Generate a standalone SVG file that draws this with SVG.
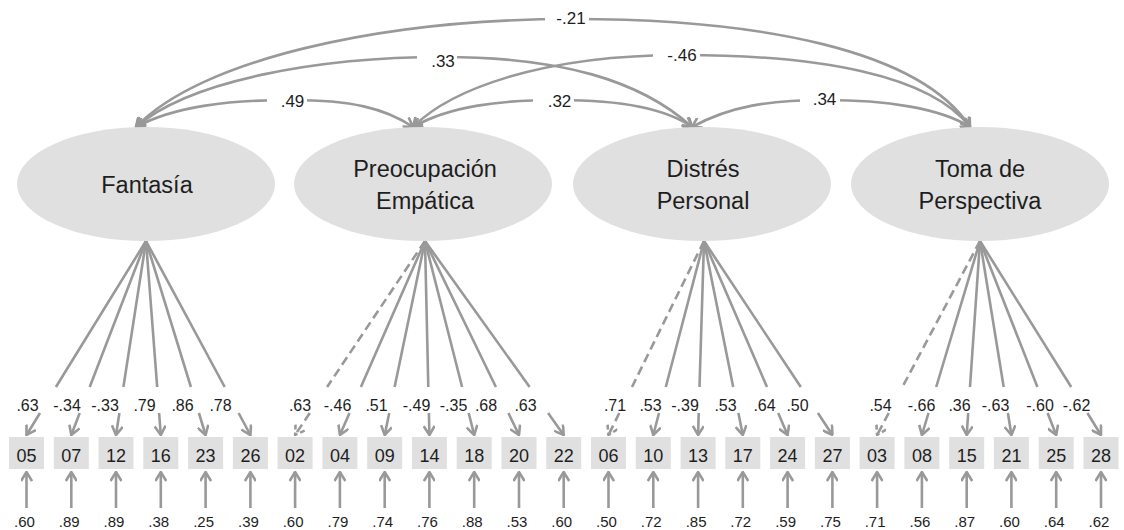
<svg xmlns="http://www.w3.org/2000/svg" width="1124" height="530" viewBox="0 0 1124 530">
<style>
.lat{fill:#e0e0e0}
.box{fill:#e0e0e0}
.t{font-family:"Liberation Sans",Arial,sans-serif;fill:#1e1e1e}
.lt{font-size:23.5px;text-anchor:middle}
.bt{font-size:18px;text-anchor:middle}
.cl{font-size:17px;text-anchor:middle}
.ll{font-size:16px;text-anchor:middle}
.el{font-size:15px;text-anchor:middle}
.edge{fill:none;stroke:#999;stroke-width:2.6}
.dash{stroke-dasharray:9 5}
.bg{fill:#fff}
</style>
<defs>
<marker id="ah" viewBox="0 0 12 12" refX="11" refY="6" markerWidth="12" markerHeight="12" markerUnits="userSpaceOnUse" orient="auto-start-reverse">
<path d="M2,0.5 L11,6 L2,11.5" fill="none" stroke="#999" stroke-width="2.6"/>
</marker>
<marker id="ahd" viewBox="0 0 12 12" refX="11" refY="6" markerWidth="12" markerHeight="12" markerUnits="userSpaceOnUse" orient="auto-start-reverse">
<path d="M2,0.5 L11,6 L2,11.5" fill="none" stroke="#999" stroke-width="2.6" stroke-dasharray="5 3"/>
</marker>
</defs>
<rect width="1124" height="530" fill="#fff"/>

<g id="connectors">
<g id="covariances">
<path class="edge" marker-start="url(#ah)" marker-end="url(#ah)" d="M136,127 C200,60 380,19 572,19 C760,19 920,50 970,127"/>
<path class="edge" marker-start="url(#ah)" marker-end="url(#ah)" d="M136,127 C190,80 320,57 443,57 C560,57 640,80 692,127"/>
<path class="edge" marker-start="url(#ah)" marker-end="url(#ah)" d="M413,127 C450,90 540,55 682,55 C820,55 930,75 970,127"/>
<path class="edge" marker-start="url(#ah)" marker-end="url(#ah)" d="M136,127 C175,106 230,100 292,100 C350,100 385,108 413,127"/>
<path class="edge" marker-start="url(#ah)" marker-end="url(#ah)" d="M413,127 C450,106 500,100 559,100 C620,100 665,108 692,127"/>
<path class="edge" marker-start="url(#ah)" marker-end="url(#ah)" d="M692,127 C730,106 770,100 825,100 C885,100 940,108 970,127"/>
</g>
<g id="cov-labels">
<rect class="bg" x="545" y="11" width="44" height="16"/><text class="t cl" x="571" y="24">-.21</text>
<rect class="bg" x="417" y="50" width="40" height="20"/><text class="t cl" x="443" y="67">.33</text>
<rect class="bg" x="653" y="47" width="47" height="16"/><text class="t cl" x="682" y="61">-.46</text>
<rect class="bg" x="267" y="92" width="40" height="17"/><text class="t cl" x="292.5" y="107">.49</text>
<rect class="bg" x="533" y="92" width="41" height="17"/><text class="t cl" x="559.5" y="107">.32</text>
<rect class="bg" x="800" y="92" width="40" height="16"/><text class="t cl" x="824.5" y="105">.34</text>
</g>
<g id="loadings">
<path class="edge" marker-end="url(#ah)" d="M146,241 L55.9,387 M40,413 L26.5,435"/>
<path class="edge" marker-end="url(#ah)" d="M146,241 L89.7,387 M79.7,413 L71.3,435"/>
<path class="edge" marker-end="url(#ah)" d="M146,241 L123.4,387 M119.4,413 L116,435"/>
<path class="edge" marker-end="url(#ah)" d="M146,241 L157.2,387 M159.1,413 L160.8,435"/>
<path class="edge" marker-end="url(#ah)" d="M146,241 L190.9,387 M198.9,413 L205.6,435"/>
<path class="edge" marker-end="url(#ah)" d="M146,241 L224.7,387 M238.6,413 L250.4,435"/>

<path class="edge dash" marker-end="url(#ahd)" d="M425,241 L327.1,387 M309.8,413 L295.1,435"/>
<path class="edge" marker-end="url(#ah)" d="M425,241 L360.9,387 M349.5,413 L339.9,435"/>
<path class="edge" marker-end="url(#ah)" d="M425,241 L394.6,387 M389.2,413 L384.7,435"/>
<path class="edge" marker-end="url(#ah)" d="M425,241 L428.3,387 M428.9,413 L429.4,435"/>
<path class="edge" marker-end="url(#ah)" d="M425,241 L462.1,387 M468.7,413 L474.2,435"/>
<path class="edge" marker-end="url(#ah)" d="M425,241 L495.9,387 M508.4,413 L519,435"/>
<path class="edge" marker-end="url(#ah)" d="M425,241 L529.6,387 M548.1,413 L563.7,435"/>

<path class="edge dash" marker-end="url(#ahd)" d="M704,241 L632,387 M619.3,413 L608.5,435"/>
<path class="edge" marker-end="url(#ah)" d="M704,241 L665.8,387 M659,413 L653.3,435"/>
<path class="edge" marker-end="url(#ah)" d="M704,241 L699.5,387 M698.7,413 L698.1,435"/>
<path class="edge" marker-end="url(#ah)" d="M704,241 L733.2,387 M738.4,413 L742.8,435"/>
<path class="edge" marker-end="url(#ah)" d="M704,241 L767,387 M778.2,413 L787.6,435"/>
<path class="edge" marker-end="url(#ah)" d="M704,241 L800.8,387 M817.9,413 L832.4,435"/>

<path class="edge dash" marker-end="url(#ahd)" d="M980,241 L902.4,387 M888.7,413 L877.1,435"/>
<path class="edge" marker-end="url(#ah)" d="M980,241 L936.2,387 M928.5,413 L921.9,435"/>
<path class="edge" marker-end="url(#ah)" d="M980,241 L970,387 M968.2,413 L966.7,435"/>
<path class="edge" marker-end="url(#ah)" d="M980,241 L1003.7,387 M1007.9,413 L1011.4,435"/>
<path class="edge" marker-end="url(#ah)" d="M980,241 L1037.4,387 M1047.6,413 L1056.2,435"/>
<path class="edge" marker-end="url(#ah)" d="M980,241 L1071.2,387 M1087.4,413 L1101,435"/>
</g>
<g id="loading-labels" class="t ll">
<text x="27.5" y="411">.63</text><text x="67" y="411">-.34</text><text x="105" y="411">-.33</text><text x="144.5" y="411">.79</text><text x="182.5" y="411">.86</text><text x="220.5" y="411">.78</text>
<text x="300" y="411">.63</text><text x="337.5" y="411">-.46</text><text x="376.5" y="411">.51</text><text x="416.5" y="411">-.49</text><text x="453.5" y="411">-.35</text><text x="486" y="411">.68</text><text x="525.5" y="411">.63</text>
<text x="615" y="411">.71</text><text x="650.5" y="411">.53</text><text x="685" y="411">-.39</text><text x="725.5" y="411">.53</text><text x="764.5" y="411">.64</text><text x="797.5" y="411">.50</text>
<text x="880.5" y="411">.54</text><text x="921.5" y="411">-.66</text><text x="959.5" y="411">.36</text><text x="995.5" y="411">-.63</text><text x="1040" y="411">-.60</text><text x="1076.5" y="411">-.62</text>
</g>
<g id="errors">
<path class="edge" marker-end="url(#ah)" d="M26.5,508 V472"/>
<path class="edge" marker-end="url(#ah)" d="M71.3,508 V472"/>
<path class="edge" marker-end="url(#ah)" d="M116,508 V472"/>
<path class="edge" marker-end="url(#ah)" d="M160.8,508 V472"/>
<path class="edge" marker-end="url(#ah)" d="M205.6,508 V472"/>
<path class="edge" marker-end="url(#ah)" d="M250.4,508 V472"/>
<path class="edge" marker-end="url(#ah)" d="M295.1,508 V472"/>
<path class="edge" marker-end="url(#ah)" d="M339.9,508 V472"/>
<path class="edge" marker-end="url(#ah)" d="M384.7,508 V472"/>
<path class="edge" marker-end="url(#ah)" d="M429.4,508 V472"/>
<path class="edge" marker-end="url(#ah)" d="M474.2,508 V472"/>
<path class="edge" marker-end="url(#ah)" d="M519,508 V472"/>
<path class="edge" marker-end="url(#ah)" d="M563.7,508 V472"/>
<path class="edge" marker-end="url(#ah)" d="M608.5,508 V472"/>
<path class="edge" marker-end="url(#ah)" d="M653.3,508 V472"/>
<path class="edge" marker-end="url(#ah)" d="M698.1,508 V472"/>
<path class="edge" marker-end="url(#ah)" d="M742.8,508 V472"/>
<path class="edge" marker-end="url(#ah)" d="M787.6,508 V472"/>
<path class="edge" marker-end="url(#ah)" d="M832.4,508 V472"/>
<path class="edge" marker-end="url(#ah)" d="M877.1,508 V472"/>
<path class="edge" marker-end="url(#ah)" d="M921.9,508 V472"/>
<path class="edge" marker-end="url(#ah)" d="M966.7,508 V472"/>
<path class="edge" marker-end="url(#ah)" d="M1011.4,508 V472"/>
<path class="edge" marker-end="url(#ah)" d="M1056.2,508 V472"/>
<path class="edge" marker-end="url(#ah)" d="M1101,508 V472"/>
</g>
<g id="error-labels" class="t el">
<text x="24.5" y="527">.60</text><text x="69.3" y="527">.89</text><text x="114" y="527">.89</text><text x="158.8" y="527">.38</text><text x="203.6" y="527">.25</text><text x="248.4" y="527">.39</text>
<text x="293.1" y="527">.60</text><text x="337.9" y="527">.79</text><text x="382.7" y="527">.74</text><text x="427.4" y="527">.76</text><text x="472.2" y="527">.88</text><text x="517" y="527">.53</text><text x="561.7" y="527">.60</text>
<text x="606.5" y="527">.50</text><text x="651.3" y="527">.72</text><text x="696.1" y="527">.85</text><text x="740.8" y="527">.72</text><text x="785.6" y="527">.59</text><text x="830.4" y="527">.75</text>
<text x="875.1" y="527">.71</text><text x="919.9" y="527">.56</text><text x="964.7" y="527">.87</text><text x="1009.4" y="527">.60</text><text x="1054.2" y="527">.64</text><text x="1099" y="527">.62</text>
</g>
</g>

<g id="fantasia"><ellipse class="lat" cx="146" cy="184" rx="129" ry="57"/><text class="t lt" x="147" y="193">Fantasía</text></g>
<g id="preocupacion"><ellipse class="lat" cx="423" cy="184" rx="129" ry="57"/><text class="t lt" x="425" y="177">Preocupación</text><text class="t lt" x="425" y="209">Empática</text></g>
<g id="distres"><ellipse class="lat" cx="702" cy="184" rx="129" ry="57"/><text class="t lt" x="703" y="177">Distrés</text><text class="t lt" x="703" y="209">Personal</text></g>
<g id="toma"><ellipse class="lat" cx="980" cy="184" rx="129" ry="57"/><text class="t lt" x="980" y="177">Toma de</text><text class="t lt" x="980" y="209">Perspectiva</text></g>

<g id="item05"><rect class="box" x="9" y="437" width="35" height="32"/><text class="t bt" x="26.5" y="462">05</text></g>
<g id="item07"><rect class="box" x="53.8" y="437" width="35" height="32"/><text class="t bt" x="71.3" y="462">07</text></g>
<g id="item12"><rect class="box" x="98.5" y="437" width="35" height="32"/><text class="t bt" x="116" y="462">12</text></g>
<g id="item16"><rect class="box" x="143.3" y="437" width="35" height="32"/><text class="t bt" x="160.8" y="462">16</text></g>
<g id="item23"><rect class="box" x="188.1" y="437" width="35" height="32"/><text class="t bt" x="205.6" y="462">23</text></g>
<g id="item26"><rect class="box" x="232.9" y="437" width="35" height="32"/><text class="t bt" x="250.4" y="462">26</text></g>
<g id="item02"><rect class="box" x="277.6" y="437" width="35" height="32"/><text class="t bt" x="295.1" y="462">02</text></g>
<g id="item04"><rect class="box" x="322.4" y="437" width="35" height="32"/><text class="t bt" x="339.9" y="462">04</text></g>
<g id="item09"><rect class="box" x="367.2" y="437" width="35" height="32"/><text class="t bt" x="384.7" y="462">09</text></g>
<g id="item14"><rect class="box" x="411.9" y="437" width="35" height="32"/><text class="t bt" x="429.4" y="462">14</text></g>
<g id="item18"><rect class="box" x="456.7" y="437" width="35" height="32"/><text class="t bt" x="474.2" y="462">18</text></g>
<g id="item20"><rect class="box" x="501.5" y="437" width="35" height="32"/><text class="t bt" x="519" y="462">20</text></g>
<g id="item22"><rect class="box" x="546.2" y="437" width="35" height="32"/><text class="t bt" x="563.7" y="462">22</text></g>
<g id="item06"><rect class="box" x="591" y="437" width="35" height="32"/><text class="t bt" x="608.5" y="462">06</text></g>
<g id="item10"><rect class="box" x="635.8" y="437" width="35" height="32"/><text class="t bt" x="653.3" y="462">10</text></g>
<g id="item13"><rect class="box" x="680.6" y="437" width="35" height="32"/><text class="t bt" x="698.1" y="462">13</text></g>
<g id="item17"><rect class="box" x="725.3" y="437" width="35" height="32"/><text class="t bt" x="742.8" y="462">17</text></g>
<g id="item24"><rect class="box" x="770.1" y="437" width="35" height="32"/><text class="t bt" x="787.6" y="462">24</text></g>
<g id="item27"><rect class="box" x="814.9" y="437" width="35" height="32"/><text class="t bt" x="832.4" y="462">27</text></g>
<g id="item03"><rect class="box" x="859.6" y="437" width="35" height="32"/><text class="t bt" x="877.1" y="462">03</text></g>
<g id="item08"><rect class="box" x="904.4" y="437" width="35" height="32"/><text class="t bt" x="921.9" y="462">08</text></g>
<g id="item15"><rect class="box" x="949.2" y="437" width="35" height="32"/><text class="t bt" x="966.7" y="462">15</text></g>
<g id="item21"><rect class="box" x="993.9" y="437" width="35" height="32"/><text class="t bt" x="1011.4" y="462">21</text></g>
<g id="item25"><rect class="box" x="1038.7" y="437" width="35" height="32"/><text class="t bt" x="1056.2" y="462">25</text></g>
<g id="item28"><rect class="box" x="1083.5" y="437" width="35" height="32"/><text class="t bt" x="1101" y="462">28</text></g>
</svg>
